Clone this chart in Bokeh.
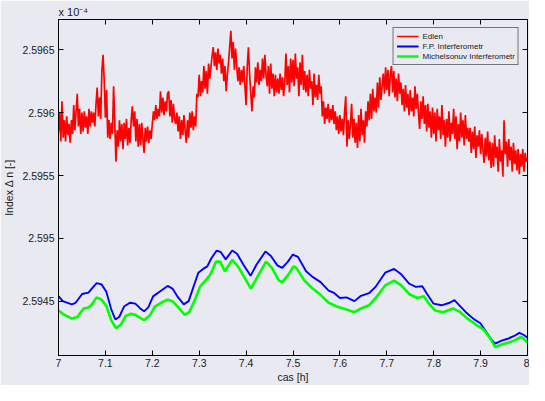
import numpy as np
from bokeh.plotting import figure
from bokeh.models import Range1d, FixedTicker, LinearAxis, Title, CustomJSTickFormatter
from bokeh.embed import file_html
from bokeh.resources import INLINE

# ---- data (Index delta n, x 1e-4) ----
edlen = [
    2.59585, 2.59600, 2.59577, 2.59609, 2.59580, 2.59594, 2.59577, 2.59597, 2.59582, 2.59591,
    2.59576, 2.59594, 2.59583, 2.59606, 2.59586, 2.59601, 2.59615, 2.59589, 2.59603, 2.59583,
    2.59600, 2.59585, 2.59601, 2.59588, 2.59597, 2.59583, 2.59603, 2.59589, 2.59601, 2.59592,
    2.59600, 2.59589, 2.59607, 2.59620, 2.59597, 2.59612, 2.59595, 2.59633, 2.59646, 2.59625,
    2.59596, 2.59618, 2.59580, 2.59594, 2.59579, 2.59592, 2.59583, 2.59621, 2.59592, 2.59561,
    2.59586, 2.59573, 2.59594, 2.59577, 2.59591, 2.59571, 2.59592, 2.59579, 2.59595, 2.59574,
    2.59588, 2.59576, 2.59594, 2.59605, 2.59589, 2.59601, 2.59577, 2.59595, 2.59573, 2.59591,
    2.59574, 2.59592, 2.59579, 2.59568, 2.59588, 2.59577, 2.59589, 2.59576, 2.59586, 2.59579,
    2.59591, 2.59601, 2.59594, 2.59606, 2.59595, 2.59603, 2.59597, 2.59617, 2.59600, 2.59612,
    2.59598, 2.59609, 2.59601, 2.59615, 2.59617, 2.59597, 2.59610, 2.59592, 2.59607, 2.59595,
    2.59591, 2.59600, 2.59585, 2.59597, 2.59579, 2.59594, 2.59582, 2.59598, 2.59586, 2.59576,
    2.59594, 2.59580, 2.59600, 2.59588, 2.59601, 2.59586, 2.59597, 2.59589, 2.59615, 2.59612,
    2.59630, 2.59613, 2.59625, 2.59616, 2.59637, 2.59619, 2.59633, 2.59615, 2.59639, 2.59627,
    2.59636, 2.59645, 2.59652, 2.59637, 2.59648, 2.59634, 2.59651, 2.59639, 2.59646, 2.59631,
    2.59643, 2.59625, 2.59637, 2.59617, 2.59630, 2.59640, 2.59652, 2.59665, 2.59643, 2.59656,
    2.59634, 2.59651, 2.59637, 2.59625, 2.59636, 2.59622, 2.59634, 2.59624, 2.59637, 2.59621,
    2.59606, 2.59637, 2.59652, 2.59630, 2.59615, 2.59601, 2.59621, 2.59612, 2.59636, 2.59624,
    2.59640, 2.59622, 2.59634, 2.59625, 2.59643, 2.59627, 2.59646, 2.59630, 2.59621, 2.59637,
    2.59615, 2.59639, 2.59619, 2.59631, 2.59613, 2.59630, 2.59616, 2.59627, 2.59615, 2.59631,
    2.59618, 2.59628, 2.59613, 2.59625, 2.59647, 2.59622, 2.59637, 2.59616, 2.59643, 2.59624,
    2.59642, 2.59621, 2.59647, 2.59627, 2.59636, 2.59613, 2.59640, 2.59622, 2.59646, 2.59618,
    2.59633, 2.59616, 2.59630, 2.59613, 2.59634, 2.59619, 2.59625, 2.59606, 2.59631, 2.59612,
    2.59622, 2.59610, 2.59630, 2.59615, 2.59621, 2.59597, 2.59609, 2.59591, 2.59604, 2.59595,
    2.59607, 2.59592, 2.59603, 2.59594, 2.59606, 2.59591, 2.59601, 2.59586, 2.59597, 2.59583,
    2.59598, 2.59585, 2.59595, 2.59582, 2.59601, 2.59613, 2.59573, 2.59594, 2.59579, 2.59591,
    2.59607, 2.59580, 2.59595, 2.59576, 2.59592, 2.59572, 2.59598, 2.59577, 2.59603, 2.59582,
    2.59594, 2.59576, 2.59601, 2.59589, 2.59609, 2.59594, 2.59615, 2.59595, 2.59619, 2.59601,
    2.59612, 2.59600, 2.59624, 2.59604, 2.59628, 2.59610, 2.59621, 2.59631, 2.59615, 2.59636,
    2.59618, 2.59634, 2.59613, 2.59630, 2.59637, 2.59616, 2.59633, 2.59612, 2.59627, 2.59609,
    2.59631, 2.59615, 2.59624, 2.59606, 2.59619, 2.59601, 2.59622, 2.59604, 2.59615, 2.59598,
    2.59618, 2.59601, 2.59612, 2.59597, 2.59621, 2.59603, 2.59615, 2.59600, 2.59587, 2.59609,
    2.59595, 2.59613, 2.59591, 2.59606, 2.59585, 2.59607, 2.59588, 2.59601, 2.59580, 2.59604,
    2.59583, 2.59600, 2.59577, 2.59603, 2.59586, 2.59597, 2.59579, 2.59606, 2.59582, 2.59594,
    2.59573, 2.59595, 2.59580, 2.59601, 2.59577, 2.59592, 2.59583, 2.59603, 2.59579, 2.59597,
    2.59571, 2.59591, 2.59577, 2.59600, 2.59580, 2.59594, 2.59574, 2.59598, 2.59579, 2.59588,
    2.59577, 2.59588, 2.59568, 2.59585, 2.59571, 2.59589, 2.59564, 2.59582, 2.59573, 2.59586,
    2.59567, 2.59583, 2.59570, 2.59560, 2.59580, 2.59565, 2.59585, 2.59562, 2.59577, 2.59556,
    2.59576, 2.59557, 2.59582, 2.59564, 2.59573, 2.59553, 2.59579, 2.59561, 2.59570, 2.59549,
    2.59594, 2.59567, 2.59577, 2.59557, 2.59579, 2.59562, 2.59573, 2.59553, 2.59576, 2.59559,
    2.59570, 2.59554, 2.59571, 2.59551, 2.59567, 2.59557, 2.59571, 2.59553, 2.59568, 2.59561,
    2.59564,
]
edlen_t = np.linspace(7.0, 8.0, len(edlen))

fp_t = [
    7.0000, 7.0091, 7.0283, 7.0365, 7.0504, 7.0640, 7.0710, 7.0813, 7.0917, 7.1020,
    7.1123, 7.1212, 7.1294, 7.1398, 7.1521, 7.1639, 7.1742, 7.1825, 7.1914, 7.2017,
    7.2155, 7.2327, 7.2430, 7.2533, 7.2671, 7.2775, 7.2878, 7.2981, 7.3084, 7.3173,
    7.3256, 7.3373, 7.3462, 7.3565, 7.3704, 7.3807, 7.3943, 7.4096, 7.4220, 7.4412,
    7.4529, 7.4666, 7.4769, 7.4893, 7.4996, 7.5107, 7.5279, 7.5417, 7.5588, 7.5760,
    7.5863, 7.6001, 7.6139, 7.6311, 7.6449, 7.6621, 7.6759, 7.6965, 7.7157, 7.7308,
    7.7481, 7.7618, 7.7756, 7.7859, 7.7997, 7.8169, 7.8340, 7.8443, 7.8547, 7.8685,
    7.8856, 7.8995, 7.9133, 7.9236, 7.9310, 7.9449, 7.9579, 7.9717, 7.9827, 7.9924,
    8.0000,
]
fp = [
    2.594542, 2.594502, 2.594476, 2.594489, 2.594559, 2.594570, 2.594602, 2.594645, 2.594635, 2.594577,
    2.594439, 2.594356, 2.594376, 2.594459, 2.594489, 2.594482, 2.594444, 2.594421, 2.594452, 2.594540,
    2.594577, 2.594623, 2.594602, 2.594540, 2.594476, 2.594502, 2.594615, 2.594728, 2.594758, 2.594778,
    2.594841, 2.594904, 2.594891, 2.594834, 2.594904, 2.594879, 2.594791, 2.594703, 2.594791, 2.594896,
    2.594861, 2.594786, 2.594766, 2.594816, 2.594872, 2.594853, 2.594740, 2.594695, 2.594653, 2.594585,
    2.594570, 2.594527, 2.594532, 2.594502, 2.594544, 2.594565, 2.594615, 2.594728, 2.594758, 2.594715,
    2.594640, 2.594615, 2.594620, 2.594559, 2.594482, 2.594469, 2.594489, 2.594510, 2.594469, 2.594414,
    2.594359, 2.594326, 2.594250, 2.594195, 2.594165, 2.594188, 2.594203, 2.594225, 2.594250, 2.594233,
    2.594210,
]

mi_t = [
    7.0000, 7.0091, 7.0283, 7.0400, 7.0537, 7.0640, 7.0710, 7.0813, 7.0917, 7.1020,
    7.1123, 7.1226, 7.1329, 7.1433, 7.1536, 7.1639, 7.1742, 7.1825, 7.1949, 7.2052,
    7.2188, 7.2327, 7.2430, 7.2554, 7.2692, 7.2787, 7.2911, 7.3014, 7.3132, 7.3241,
    7.3359, 7.3448, 7.3545, 7.3704, 7.3827, 7.3957, 7.4102, 7.4253, 7.4426, 7.4550,
    7.4701, 7.4769, 7.4907, 7.5010, 7.5072, 7.5244, 7.5417, 7.5588, 7.5760, 7.5933,
    7.6104, 7.6311, 7.6449, 7.6621, 7.6792, 7.6965, 7.7157, 7.7308, 7.7481, 7.7653,
    7.7791, 7.7894, 7.8031, 7.8204, 7.8411, 7.8547, 7.8720, 7.8891, 7.9063, 7.9201,
    7.9310, 7.9449, 7.9620, 7.9717, 7.9862, 7.9924, 8.0000,
]
mi = [
    2.594427, 2.594401, 2.594363, 2.594376, 2.594444, 2.594452, 2.594476, 2.594532, 2.594514, 2.594464,
    2.594351, 2.594288, 2.594314, 2.594384, 2.594401, 2.594393, 2.594369, 2.594351, 2.594389, 2.594459,
    2.594489, 2.594514, 2.594502, 2.594452, 2.594393, 2.594414, 2.594514, 2.594615, 2.594665, 2.594715,
    2.594816, 2.594816, 2.594740, 2.594829, 2.594778, 2.594695, 2.594602, 2.594703, 2.594816, 2.594766,
    2.594665, 2.594653, 2.594715, 2.594778, 2.594766, 2.594665, 2.594602, 2.594552, 2.594489, 2.594459,
    2.594439, 2.594414, 2.594444, 2.594469, 2.594540, 2.594627, 2.594665, 2.594627, 2.594557, 2.594527,
    2.594540, 2.594484, 2.594427, 2.594414, 2.594444, 2.594419, 2.594363, 2.594318, 2.594276, 2.594208,
    2.594137, 2.594157, 2.594175, 2.594188, 2.594218, 2.594203, 2.594172,
]

series_names = ["Edlen", "F.P. Interferometr", "Michelsonuv Interferometr"]
x_ticks = [7.0, 7.1, 7.2, 7.3, 7.4, 7.5, 7.6, 7.7, 7.8, 7.9, 8.0]
x_tick_labels = ["7", "7.1", "7.2", "7.3", "7.4", "7.5", "7.6", "7.7", "7.8", "7.9", "8"]
y_ticks = [2.5945, 2.595, 2.5955, 2.596, 2.5965]
y_tick_labels = ["2.5945", "2.595", "2.5955", "2.596", "2.5965"]
exponent_text = "x 10\u207b\u2074"
x_lim = (7.0, 8.0)
y_lim = (2.59407, 2.59674)

# ---- styling ----
BG = "#E9E9F1"
FONT = "Liberation Sans"
TXT = "#1a1a1a"

p = figure(width=529, height=385, output_backend="svg", toolbar_location=None,
           x_range=Range1d(*x_lim), y_range=Range1d(*y_lim),
           min_border_left=50, min_border_right=2, min_border_top=19, min_border_bottom=0)
p.background_fill_color = BG
p.border_fill_color = BG
p.outline_line_color = "black"
p.outline_line_width = 1
p.grid.visible = False

p.line(edlen_t, edlen, color="#FF0000", line_width=1.7, legend_label=series_names[0])
p.line(fp_t, fp, color="#0000FF", line_width=1.9, legend_label=series_names[1])
p.line(mi_t, mi, color="#00FF00", line_width=2.6, legend_label=series_names[2])


def style_axis(ax, ticks, labels):
    ax.ticker = FixedTicker(ticks=ticks)
    ax.major_label_overrides = {float(t): s for t, s in zip(ticks, labels)}
    ax.major_tick_in = 5
    ax.major_tick_out = 0
    ax.minor_tick_in = 0
    ax.minor_tick_out = 0
    ax.axis_line_color = "black"
    ax.major_tick_line_color = "black"
    ax.major_label_text_font = FONT
    ax.major_label_text_font_size = "10.5px"
    ax.major_label_text_color = TXT
    ax.axis_label_text_font = FONT
    ax.axis_label_text_font_size = "10.5px"
    ax.axis_label_text_font_style = "normal"
    ax.axis_label_text_color = TXT


style_axis(p.xaxis[0], x_ticks, x_tick_labels)
style_axis(p.yaxis[0], y_ticks, y_tick_labels)
p.xaxis[0].axis_label = "cas [h]"
p.xaxis[0].major_label_standoff = 3
p.xaxis[0].axis_label_standoff = 1
p.yaxis[0].axis_label = "Index \u0394 n [-]"
p.yaxis[0].major_label_standoff = 4
p.yaxis[0].axis_label_standoff = 4

blank = CustomJSTickFormatter(code="return ''")
top_ax = LinearAxis(ticker=FixedTicker(ticks=x_ticks), formatter=blank,
                    major_tick_in=5, major_tick_out=0, minor_tick_in=0, minor_tick_out=0,
                    major_label_standoff=0, major_label_text_font_size="1px",
                    axis_line_color="black")
right_ax = LinearAxis(ticker=FixedTicker(ticks=y_ticks), formatter=blank,
                      major_tick_in=5, major_tick_out=0, minor_tick_in=0, minor_tick_out=0,
                      major_label_standoff=0, major_label_text_font_size="1px",
                      axis_line_color="black")
p.add_layout(top_ax, "above")
p.add_layout(right_ax, "right")

p.add_layout(Title(text=exponent_text, align="left", text_font=FONT, text_font_size="11px",
                   text_font_style="normal", text_color=TXT, standoff=3, offset=0), "above")

lg = p.legend[0]
lg.location = "top_right"
lg.label_text_font = FONT
lg.label_text_font_size = "8px"
lg.label_text_color = TXT
lg.glyph_width = 22
lg.glyph_height = 10
lg.label_height = 10
lg.label_standoff = 4
lg.spacing = 0
lg.padding = 3
lg.margin = 8
lg.border_line_color = "black"
lg.border_line_width = 1.2
lg.background_fill_color = BG
lg.background_fill_alpha = 1.0

open("out.html", "w").write(file_html(p, INLINE))
